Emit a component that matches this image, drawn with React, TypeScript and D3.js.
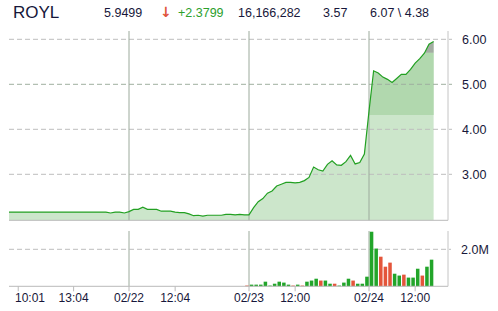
import React from "react";
import * as d3 from "d3";

// Intraday quote, 15-minute slots (26 per session), four sessions
const symbol = "ROYL";
const lastPrice = "5.9499";
const change = "+2.3799";
const volumeText = "16,166,282";
const prevClose = "3.57";
const rangeText = "6.07 \\ 4.38";

// price at each slot boundary (0..92)
const prices = [
  // 02/21
  2.16, 2.16, 2.16, 2.16, 2.16, 2.16, 2.16, 2.16, 2.16, 2.16, 2.16, 2.16, 2.16,
  2.16, 2.16, 2.16, 2.16, 2.16, 2.16, 2.16, 2.16, 2.16, 2.14, 2.16, 2.16, 2.14,
  // 02/22
  2.17, 2.22, 2.22, 2.27, 2.22, 2.22, 2.22, 2.18, 2.18, 2.18, 2.16, 2.15, 2.15,
  2.12, 2.08, 2.09, 2.07, 2.09, 2.09, 2.09, 2.09, 2.11, 2.11, 2.1, 2.11, 2.1,
  // 02/23
  2.1, 2.26, 2.39, 2.46, 2.58, 2.63, 2.74, 2.78, 2.82, 2.82, 2.81, 2.82, 2.86,
  2.93, 3.16, 3.1, 3.07, 3.22, 3.3, 3.21, 3.2, 3.28, 3.42, 3.23, 3.26, 3.45,
  // 02/24
  4.4, 5.3, 5.25, 5.16, 5.11, 5.04, 5.13, 5.22, 5.22, 5.33, 5.47, 5.57, 5.69,
  5.89, 5.95,
];

// volume per slot, millions of shares
const volDay1 = Array(26).fill(0);
const volDay2 = [...Array(25).fill(0), 0.04];
const volDay3 = [
  0.09, 0.09, 0.09, 0.25, 0.04, 0.14, 0.25, 0.2, 0.09, 0.04, 0.09, 0.04, 0.25,
  0.31, 0.41, 0.31, 0.31, 0.14, 0.14, 0.04, 0.2, 0.41, 0.31, 0.14, 0.14, 0.52,
];
const volDay4 = [
  2.95, 2.04, 1.6, 1.06, 1.28, 0.68, 0.58, 0.63, 0.47, 0.47, 0.95, 0.58, 1.06,
  1.44,
];
const volumes = [...volDay1, ...volDay2, ...volDay3, ...volDay4];
const downBars = [51, 61, 63, 67, 70, 74, 80, 81, 82, 85, 89];

const priceTicks = [6, 5, 4, 3];
const volumeTicks = [2];
const sessionStarts = [26, 52, 78];
const timeTicks = [2, 14, 26, 36, 52, 62, 78, 88];
const timeLabels = ["10:01", "13:04", "02/22", "12:04", "02/23", "12:00", "02/24", "12:00"];

// shading thresholds for the latest session
const bandLow = 4.32;
const bandHigh = 5.7;

const FONT = "'Liberation Sans', Arial, sans-serif";
const TEXT = "#17173a";

export default function App() {
  const left = 9;
  const right = 448;
  const x = d3.scaleLinear().domain([0, 26]).range([left, 129]);
  const yP = d3.scaleLinear().domain([2, 6]).range([219.3, 39.3]);
  const pTop = 31;
  const pBottom = 220.3;
  const vTop = 231;
  const vBottom = 286.3;
  const yV = d3.scaleLinear().domain([0, 2]).range([vBottom, 249.3]);

  const pts = prices.map((p, i) => [i, p] as [number, number]);
  const line = d3
    .line<[number, number]>()
    .x((d) => x(d[0]))
    .y((d) => yP(d[1]));
  const area = d3
    .area<[number, number]>()
    .x((d) => x(d[0]))
    .y0(pBottom)
    .y1((d) => yP(d[1]));

  const step = x(1) - x(0);
  const lineColor = "#22a022";

  return (
    <svg
      width={498}
      height={311}
      style={{ position: "fixed", left: 0, top: 0, background: "#fff" }}
      fontFamily={FONT}
    >
      <defs>
        <clipPath id="band-mid">
          <rect x={0} y={yP(bandHigh)} width={498} height={yP(bandLow) - yP(bandHigh)} />
        </clipPath>
        <clipPath id="band-top">
          <rect x={0} y={0} width={498} height={yP(bandHigh)} />
        </clipPath>
      </defs>

      {/* header */}
      <text x={13} y={18} fontSize={17} fill={TEXT}>{symbol}</text>
      <g fontSize={12.5} fill={TEXT}>
        <text x={104} y={17}>{lastPrice}</text>
        <text x={160} y={17} fontSize={14} fontWeight="bold" fill="#e0533a" fontFamily="'DejaVu Sans', sans-serif">↓</text>
        <text x={178} y={17} fill="#2ca02c">{change}</text>
        <text x={238} y={17}>{volumeText}</text>
        <text x={323} y={17}>{prevClose}</text>
        <text x={370} y={17}>{rangeText}</text>
      </g>

      {/* price panel */}
      <path d={area(pts) ?? ""} fill="#cce6cb" />
      <path d={area(pts) ?? ""} fill="#b1d8ae" clipPath="url(#band-mid)" />
      <path d={area(pts) ?? ""} fill="#a3aca2" clipPath="url(#band-top)" />

      {priceTicks.map((t) => (
        <g key={t}>
          <line
            x1={left}
            x2={452}
            y1={yP(t)}
            y2={yP(t)}
            stroke={t === 5 ? "#9fb09f" : "#bdbdbd"}
            strokeDasharray="5,3"
          />
          <text x={462} y={yP(t) + 4.5} fontSize={12.5} fill={TEXT}>
            {t.toFixed(2)}
          </text>
        </g>
      ))}

      {sessionStarts.map((s) => (
        <g key={s} stroke="#9caa9c">
          <line x1={x(s)} x2={x(s)} y1={pTop} y2={pBottom} />
          <line x1={x(s)} x2={x(s)} y1={vTop} y2={vBottom} />
        </g>
      ))}

      <path d={line(pts) ?? ""} fill="none" stroke={lineColor} strokeWidth={1.2} />

      <line x1={left} x2={right} y1={pBottom} y2={pBottom} stroke="#bababa" />
      <line x1={right} x2={right} y1={pTop} y2={pBottom} stroke="#c4c4c4" />

      {/* volume panel */}
      {volumeTicks.map((t) => (
        <g key={t}>
          <line x1={left} x2={451} y1={yV(t)} y2={yV(t)} stroke="#bdbdbd" strokeDasharray="5,3" />
          <text x={461} y={yV(t) + 4.5} fontSize={12.5} fill={TEXT}>
            {t.toFixed(1)}M
          </text>
        </g>
      ))}

      {volumes.map((v, k) =>
        v > 0 ? (
          <rect
            key={k}
            x={x(k) + 0.8}
            width={step - 1.1}
            y={yV(v)}
            height={vBottom - yV(v)}
            fill={downBars.includes(k) ? "#e4553a" : "#22a52a"}
          />
        ) : null
      )}

      <line x1={left} x2={right} y1={vBottom} y2={vBottom} stroke="#bababa" />
      <line x1={right} x2={right} y1={vTop} y2={vBottom} stroke="#c4c4c4" />

      {/* time axis */}
      {timeTicks.map((s, i) => (
        <g key={i}>
          <line x1={x(s)} x2={x(s)} y1={vBottom} y2={vBottom + 5} stroke="#bababa" />
          <text
            x={Math.max(x(s), 30)}
            y={302}
            fontSize={12}
            textAnchor="middle"
            fill={TEXT}
          >
            {timeLabels[i]}
          </text>
        </g>
      ))}
    </svg>
  );
}
